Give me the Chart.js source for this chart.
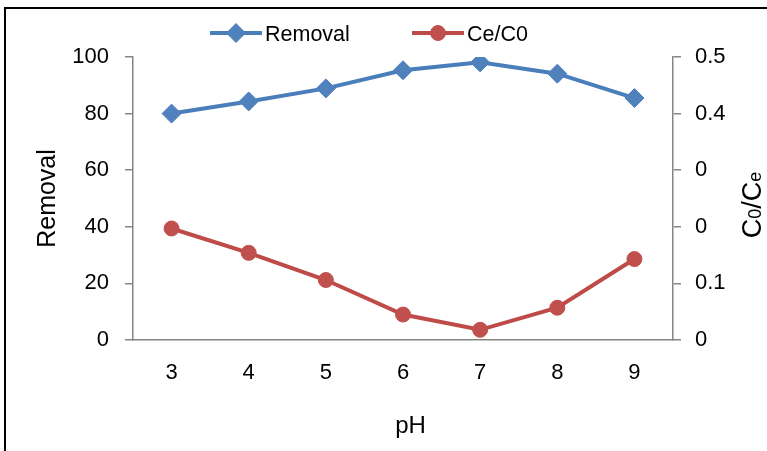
<!DOCTYPE html>
<html>
<head>
<meta charset="utf-8">
<script src="https://cdn.jsdelivr.net/npm/chart.js@4/dist/chart.umd.min.js"></script>
<style>
  html, body { margin: 0; padding: 0; background: #fff; }
  #wrap { position: relative; width: 767px; height: 451px; overflow: hidden; }
  #marco { position: absolute; left: 4px; top: 7px; right: -10px; bottom: -10px;
           border-left: 2px solid #000; border-top: 2px solid #000; }
  canvas { position: absolute; left: 0; top: 0; }
</style>
</head>
<body>
<div id="wrap">
  <div id="marco"></div>
  <canvas id="grafico" width="767" height="451"></canvas>
</div>
<script>
// datos
const phLabels   = ['3', '4', '5', '6', '7', '8', '9'];
const removal    = [80.0, 84.3, 88.9, 95.3, 98.1, 94.1, 85.5];
const ceC0       = [0.197, 0.154, 0.106, 0.045, 0.018, 0.057, 0.143];
const rightTicks = ['0', '0.1', '0', '0', '0.4', '0.5'];

const AZUL = '#4A7EBB';
const ROJO = '#BE4B48';
const EJE  = '#868686';
const FUENTE = '"Liberation Sans", Arial, sans-serif';

// ───────────────────────── leyenda (línea + marcador, estilo Excel)
const leyenda = {
  id: 'leyenda',
  afterDraw (chart) {
    const ctx = chart.ctx;
    const y = 33;
    const items = [{ x: 210, texto: 'Removal' }, { x: 412, texto: 'Ce/C0' }];
    ctx.save();
    items.forEach((it, i) => {
      const ds = chart.data.datasets[i];
      ctx.strokeStyle = ds.borderColor;
      ctx.lineWidth = 4;
      ctx.beginPath();
      ctx.moveTo(it.x, y);
      ctx.lineTo(it.x + 52, y);
      ctx.stroke();
      ctx.fillStyle = ds.pointBackgroundColor;
      ctx.strokeStyle = ds.pointBorderColor;
      ctx.lineWidth = 1;
      Chart.helpers.drawPoint(ctx, {
        pointStyle: ds.pointStyle, rotation: 0, radius: ds.pointRadius, borderWidth: 1
      }, it.x + 26, y);
      ctx.fillStyle = '#000';
      ctx.font = `21.5px ${FUENTE}`;
      ctx.textBaseline = 'alphabetic';
      ctx.textAlign = 'left';
      ctx.fillText(it.texto, it.x + 55, y + 8);
    });
    ctx.restore();
  }
};

// ───────────────────────── títulos: eje derecho (C0/Ce con subíndices) y pH
const titulos = {
  id: 'titulos',
  afterDraw (chart) {
    const ctx = chart.ctx;
    ctx.save();
    ctx.fillStyle = '#000';
    ctx.textBaseline = 'alphabetic';
    ctx.textAlign = 'left';

    // C0/Ce girado -90°
    const partes = [
      { t: 'C', s: 27 }, { t: '0', s: 18 }, { t: '/', s: 27 }, { t: 'C', s: 27 }, { t: 'e', s: 18 }
    ];
    let total = 0;
    partes.forEach(p => { ctx.font = `${p.s}px ${FUENTE}`; p.w = ctx.measureText(p.t).width; total += p.w; });
    ctx.translate(751, 205);
    ctx.rotate(-Math.PI / 2);
    let x = -total / 2;
    partes.forEach(p => { ctx.font = `${p.s}px ${FUENTE}`; ctx.fillText(p.t, x, 9.5); x += p.w; });
    ctx.setTransform(1, 0, 0, 1, 0, 0);

    // pH
    ctx.font = `24px ${FUENTE}`;
    ctx.textAlign = 'center';
    ctx.fillText('pH', 410.5, 433);
    ctx.restore();
  }
};

const ctx = document.getElementById('grafico').getContext('2d');
new Chart(ctx, {
  type: 'line',
  data: {
    labels: phLabels,
    datasets: [
      {
        label: 'Removal', data: removal, yAxisID: 'y',
        borderColor: AZUL, borderWidth: 4, tension: 0,
        pointStyle: 'rectRot', pointRadius: 9.5,
        pointBackgroundColor: '#4F81BD', pointBorderColor: '#4F81BD', pointBorderWidth: 1
      },
      {
        label: 'Ce/C0', data: ceC0, yAxisID: 'y1',
        borderColor: ROJO, borderWidth: 4, tension: 0,
        pointStyle: 'circle', pointRadius: 7.5,
        pointBackgroundColor: '#C0504D', pointBorderColor: '#C0504D', pointBorderWidth: 1
      }
    ]
  },
  options: {
    responsive: false,
    animation: false,
    devicePixelRatio: 1,
    layout: { padding: { top: 57, left: 0, right: 0, bottom: 0 } },
    plugins: { legend: { display: false }, tooltip: { enabled: false } },
    scales: {
      x: {
        offset: true,
        afterFit: s => { s.height = 111; },
        grid: { display: false, drawTicks: false },
        border: { display: true, color: EJE, width: 1.5 },
        ticks: { color: '#000', font: { family: FUENTE, size: 22 }, padding: 20, maxRotation: 0 }
      },
      y: {
        position: 'left', min: 0, max: 100,
        afterFit: s => { s.width = 133; },
        grid: { drawOnChartArea: false, drawTicks: true, tickLength: 8, color: EJE, lineWidth: 1.5 },
        border: { display: true, color: EJE, width: 1.5 },
        ticks: { stepSize: 20, color: '#000', font: { family: FUENTE, size: 22 }, padding: 16 },
        title: { display: true, text: 'Removal', color: '#000',
                 font: { family: FUENTE, size: 25 }, padding: { top: 33, bottom: 0 } }
      },
      y1: {
        position: 'right', min: 0, max: 0.5,
        afterFit: s => { s.width = 94; },
        grid: { drawOnChartArea: false, drawTicks: true, tickLength: 8, color: EJE, lineWidth: 1.5 },
        border: { display: true, color: EJE, width: 1.5 },
        ticks: { stepSize: 0.1, color: '#000', font: { family: FUENTE, size: 22 }, padding: 14,
                 callback: (v, i) => rightTicks[i] }
      }
    }
  },
  plugins: [leyenda, titulos]
});
</script>
</body>
</html>
